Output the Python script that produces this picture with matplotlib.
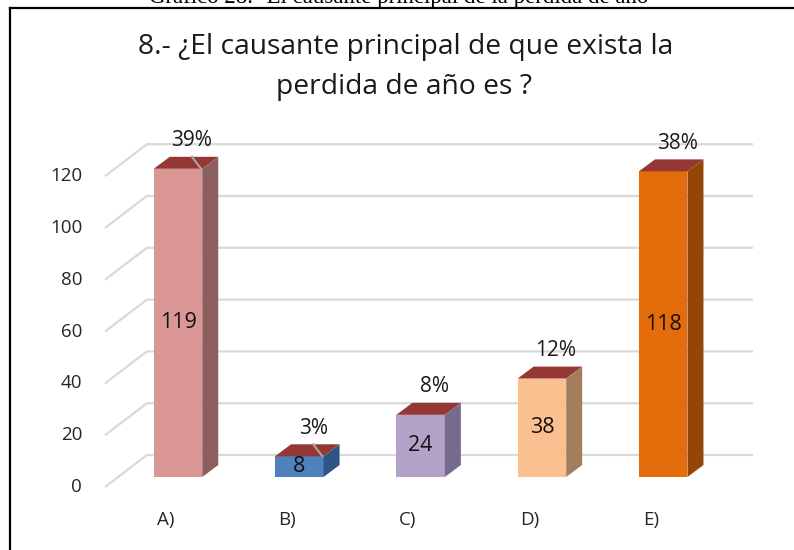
import matplotlib
matplotlib.use("Agg")
import matplotlib.pyplot as plt
from matplotlib.patches import Polygon
from matplotlib.lines import Line2D

categories = ["A)", "B)", "C)", "D)", "E)"]
values = [119, 8, 24, 38, 118]
percent_labels = ["39%", "3%", "8%", "12%", "38%"]
leader = [True, True, False, False, False]
yticks = [0, 20, 40, 60, 80, 100, 120]

front_colors = ["#D99694", "#4F81BD", "#B3A2C7", "#FAC090", "#E46C0A"]
side_colors = ["#8C5F5E", "#2F5587", "#776A8A", "#A47D5C", "#944607"]
top_color = "#953735"

W, H = 794, 550
fig = plt.figure(figsize=(W / 100, H / 100), dpi=100)
fig.patch.set_facecolor("white")

# axes across whole figure; data mapping chosen for the pseudo-3D layout
ax = fig.add_axes([0, 0, 1, 1])
ax.set_xlim(-1.4674, 5.0783)
ax.set_ylim(-28.19, 184.17)
ax.axis("off")

font = "Open Sans"
bw = 0.4          # bar width (category units)
ddx, ddy = 0.132, 4.63   # bar depth offset
fdx, fdy = -0.107, -3.86  # front plane offset
bdx, bdy = 0.239, 8.49    # back wall offset
wall_x = -0.495
right_x = 4.74

# gridlines on the back wall plus floor/side diagonals
for v in yticks:
    ax.plot([wall_x + fdx, wall_x + bdx, right_x], [v + fdy, v + bdy, v + bdy],
            color="#D9D9D9", lw=1.6, solid_capstyle="butt", zorder=1)
    ax.text(-0.791, v + fdy, str(v), ha="right", va="center", fontsize=13.5,
            family=font, color="#262626")

xs = list(range(len(categories)))
ax.bar(xs, values, width=bw, color=front_colors, zorder=3, linewidth=0)
for i, v in enumerate(values):
    x0, x1 = i - bw / 2, i + bw / 2
    top = Polygon([(x0, v), (x1, v), (x1 + ddx, v + ddy), (x0 + ddx, v + ddy)],
                  closed=True, facecolor=top_color, edgecolor="none", zorder=3)
    side = Polygon([(x1, 0), (x1 + ddx, ddy), (x1 + ddx, v + ddy), (x1, v)],
                   closed=True, facecolor=side_colors[i], edgecolor="none", zorder=3)
    ax.add_patch(top)
    ax.add_patch(side)
    ax.text(i, v / 2, str(v), ha="center", va="center", fontsize=15.5,
            family=font, color="#111111", zorder=5)
    ax.text(i + 0.115, v + 10.8, percent_labels[i], ha="center", va="center",
            fontsize=15, family=font, color="#1a1a1a", zorder=5)
    if leader[i]:
        ax.plot([i + 0.115, i + bw / 2 - 0.01], [v + ddy, v], color="#A6A6A6",
                lw=1.5, zorder=4)
    ax.text(i - 0.103, -16.6, categories[i], ha="center", va="center",
            fontsize=13.5, family=font, color="#262626")

# title
fig.text(406 / W, 1 - 47 / H, "8.- ¿El causante principal de que exista la",
         ha="center", va="center", fontsize=20.3, family=font, color="#1a1a1a")
fig.text(404 / W, 1 - 87 / H, "perdida de año es ?",
         ha="center", va="center", fontsize=20.3, family=font, color="#1a1a1a")

# caption partially cut off at top (as in the source image)
fig.text(399 / W, 1 - 3 / H, "Gráfico 28.- El causante principal de la perdida de año",
         ha="center", va="baseline", fontsize=16.5, family="Liberation Serif", color="black")

# frame (left and top edges visible)
fig.add_artist(Line2D([10 / W, 10 / W], [0, 1 - 7.5 / H], color="black", lw=1.6,
                      transform=fig.transFigure))
fig.add_artist(Line2D([10 / W, 1], [1 - 7.5 / H, 1 - 7.5 / H], color="black", lw=1.6,
                      transform=fig.transFigure))

fig.savefig("out.png", dpi=100)
